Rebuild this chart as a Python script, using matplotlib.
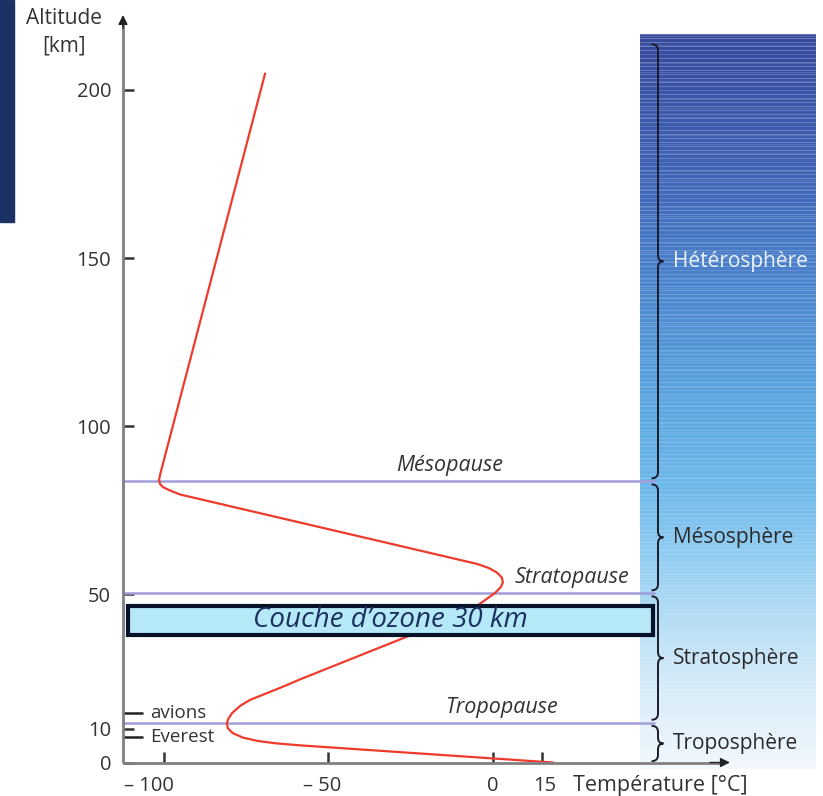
import numpy as np
import matplotlib
matplotlib.use("Agg")
import matplotlib.pyplot as plt
from matplotlib.patches import Rectangle, PathPatch
from matplotlib.path import Path
from matplotlib.transforms import ScaledTranslation

plt.rcParams['font.family'] = ['Open Sans', 'DejaVu Sans']

# ---------------- data ----------------
altitude_km = [0, 5.1, 5.7, 6.4, 7.4, 8.8, 10.2, 11.6, 12.9, 14.7, 16.8, 18.6,
               20.4, 22.8, 24.7, 37.8, 45.1, 48.3, 50.4, 52.2, 53.6, 55.0,
               56.5, 57.8, 59.0, 79.7, 80.9, 81.9, 82.8, 84.0, 85.5, 87.8,
               204.8]
temperature_c = [18.2, -58.7, -66.0, -71.5, -76.0, -79.2, -80.6, -80.9, -80.5,
                 -79.3, -76.9, -73.9, -69.3, -63.2, -58.7, -25.2, -7.0, -2.4,
                 0.6, 2.4, 3.0, 2.7, 1.2, -1.2, -4.6, -95.1, -98.2, -100.3,
                 -101.2, -101.5, -101.2, -100.6, -69.3]

pause_names = ["Tropopause", "Stratopause", "Mésopause"]
pause_alt = [11.8, 50.3, 83.6]

layer_names = ["Troposphère", "Stratosphère", "Mésosphère", "Hétérosphère"]
layer_bounds = [0, 11.8, 50.3, 83.6, 214.5]

y_ticks = [0, 10, 50, 100, 150, 200]
x_ticks = [-100, -50, 0, 15]
x_tick_labels = ["– 100", "– 50", "0", "15"]

landmark_names = ["avions", "Everest"]
landmark_alt = [14.7, 7.6]

ozone_label = "Couche d’ozone 30 km"
ozone_alt_range = [38.0, 46.5]

# gradient colour stops (altitude km, rgb)
grad_alt = [216.4, 180, 150, 120, 100, 80, 60, 40, 20, 0, -2]
grad_rgb = [(55, 74, 158), (62, 96, 178), (72, 125, 200), (85, 155, 218),
            (95, 172, 228), (112, 186, 235), (148, 206, 241), (186, 223, 246),
            (218, 237, 249), (240, 247, 253), (244, 249, 254)]

# ---------------- layout ----------------
W, H = 823, 796
fig = plt.figure(figsize=(W / 100, H / 100), dpi=100)
XMIN, XMAX = -112.46, 97.87
YMIN, YMAX = 0.0, 222.3
ax = fig.add_axes([123 / W, (H - 762.5) / H, (815 - 123) / W, (762.5 - 15) / H])
ax.set_xlim(XMIN, XMAX)
ax.set_ylim(YMIN, YMAX)
for s in ax.spines.values():
    s.set_visible(False)
ax.patch.set_alpha(0)

# left navy strip
fig.patches.append(Rectangle((0, 1 - 222 / H), 14 / W, 222 / H,
                             transform=fig.transFigure, color='#1b3163', zorder=0))

# gradient bar
bar_x0, bar_x1 = 44.7, 97.9
bar_top, bar_bot = 216.4, -2.0
nrows = 735
rows_alt = np.linspace(bar_top, bar_bot, nrows)
ga = np.array(grad_alt)[::-1]
gr = np.array(grad_rgb, dtype=float)[::-1]
img = np.zeros((nrows, 1, 3))
for c in range(3):
    img[:, 0, c] = np.interp(rows_alt, ga, gr[:, c]) / 255.0
stripe = np.zeros(nrows)
stripe[::4] = 1
stripe[2::9] = 0.6
strength = 0.25 * np.clip((rows_alt - 0) / 216.0, 0, 1) ** 0.6
mix = (stripe * strength)[:, None]
img[:, 0, :] = img[:, 0, :] * (1 - mix) + mix
ax.imshow(img, extent=[bar_x0, bar_x1, bar_bot, bar_top], aspect='auto',
          interpolation='nearest', zorder=1, clip_on=False)

# pause lines
LINE_END = 49.2
for a in pause_alt:
    ax.plot([XMIN, LINE_END], [a, a], color='#a29ddb', lw=1.8, zorder=2,
            solid_capstyle='butt', clip_on=False)

pause_pos = {"Tropopause": (2.7, 16.4), "Stratopause": (24.0, 55.1),
             "Mésopause": (-13.1, 88.4)}
for name in pause_names:
    px, py = pause_pos[name]
    ax.text(px, py, name, style='italic', fontsize=15.5, color='#333333',
            ha='center', va='center', zorder=6)

# temperature curve
ax.plot(temperature_c, altitude_km, color='#ef3b2c', lw=1.6, zorder=3,
        solid_joinstyle='round', clip_on=False)

# braces
def brace(y0, y1, xl=50.15, tip=51.8, hook=48.2, d=1.8):
    ym = (y0 + y1) / 2
    verts = [(hook, y1), (xl, y1), (xl, y1 - d),
             (xl, ym + d),
             (xl, ym), (tip, ym),
             (xl, ym), (xl, ym - d),
             (xl, y0 + d),
             (xl, y0), (hook, y0)]
    codes = [Path.MOVETO, Path.CURVE3, Path.CURVE3, Path.LINETO,
             Path.CURVE3, Path.CURVE3, Path.CURVE3, Path.CURVE3,
             Path.LINETO, Path.CURVE3, Path.CURVE3]
    ax.add_patch(PathPatch(Path(verts, codes), fill=False, edgecolor='#1c1c2c',
                           lw=1.4, zorder=4, clip_on=False))

gap = 0.9
for i, name in enumerate(layer_names):
    lo, hi = layer_bounds[i] + (0.4 if i == 0 else gap), layer_bounds[i + 1] - gap
    brace(lo, hi)
    col = '#eef3fb' if name == "Hétérosphère" else '#2a2a2a'
    ax.text(54.7, (lo + hi) / 2, name, fontsize=15, color=col,
            ha='left', va='center', zorder=6)

# ozone box
ax.add_patch(Rectangle((-110.94, ozone_alt_range[0]), 159.57,
                       ozone_alt_range[1] - ozone_alt_range[0],
                       facecolor='#b5e9f7', edgecolor='#08132a', lw=3,
                       zorder=5, clip_on=False))
ax.text(-31.3, 42.3, ozone_label, style='italic', fontsize=20,
        color='#1d3160', ha='center', va='center', zorder=6)

# landmarks
for name, a in zip(landmark_names, landmark_alt):
    ax.plot([XMIN, XMIN + 6.1], [a, a], color='#222222', lw=1.8, zorder=7,
            solid_capstyle='butt', clip_on=False)
    ax.text(-104.3, a, name, fontsize=13.5, color='#333333', ha='left',
            va='center', zorder=6)

# axes lines with arrows
ax.plot([XMIN, XMIN], [0, YMAX - 2], color='#808080', lw=2, zorder=7,
        clip_on=False, solid_capstyle='butt')
ax.plot([XMIN, 70], [0, 0], color='#808080', lw=2, zorder=7,
        clip_on=False, solid_capstyle='butt')
ax.annotate('', xy=(XMIN, YMAX), xytext=(XMIN, YMAX - 4),
            arrowprops=dict(arrowstyle='-|>', color='#222222', lw=1,
                            mutation_scale=14, shrinkA=0, shrinkB=0),
            annotation_clip=False, zorder=8)
ax.annotate('', xy=(72.0, 0), xytext=(66.0, 0),
            arrowprops=dict(arrowstyle='-|>', color='#222222', lw=1,
                            mutation_scale=14, shrinkA=0, shrinkB=0),
            annotation_clip=False, zorder=8)

# ticks
ax.set_yticks(y_ticks)
ax.set_yticklabels([str(v) for v in y_ticks])
ax.set_xticks(x_ticks)
ax.set_xticklabels(x_tick_labels)
ax.tick_params(axis='both', direction='in', length=8, width=1.8,
               color='#333333', labelsize=14.5, labelcolor='#333333')
ax.tick_params(axis='y', pad=8.6)
ax.tick_params(axis='x', pad=10)
x_label_shift_px = [-15, -6, 0, 2]
for lbl, dx in zip(ax.get_xticklabels(), x_label_shift_px):
    lbl.set_transform(lbl.get_transform() + ScaledTranslation(dx / 100, 0, fig.dpi_scale_trans))

fig.text(64 / W, 1 - 18 / H, "Altitude", fontsize=15, color='#333333',
         ha='center', va='center')
fig.text(64 / W, 1 - 46 / H, "[km]", fontsize=15, color='#333333',
         ha='center', va='center')
fig.text(573 / W, 1 - 785 / H, "Température [°C]", fontsize=15.5, color='#333333',
         ha='left', va='center')

fig.savefig("out.png", dpi=100)
